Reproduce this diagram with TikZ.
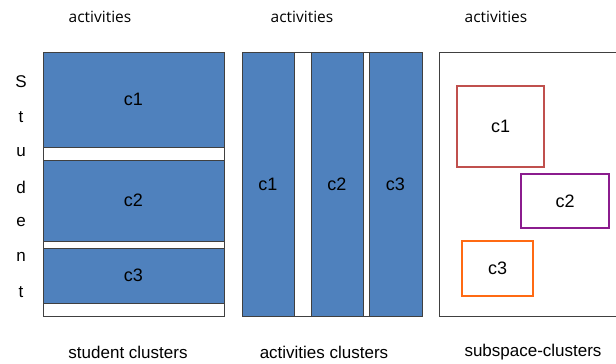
\documentclass[tikz,border=0pt]{standalone}
\usepackage{fontspec}
\setmainfont{Liberation Sans}
\newfontfamily\arialf{Liberation Sans}
\newfontfamily\segoef{Open Sans}
\definecolor{cblue}{HTML}{4F81BD}
\definecolor{cedge}{HTML}{404040}
\definecolor{cred}{HTML}{C0504D}
\definecolor{cpurple}{HTML}{8B1C8E}
\definecolor{corange}{HTML}{FF6A13}
\tikzset{
  panel/.style={draw=cedge, line width=0.9pt, fill=white, inner sep=0pt, anchor=north west},
  bluebox/.style={draw=cedge, line width=0.9pt, fill=cblue, inner sep=0pt, anchor=center, font=\arialf\fontsize{18}{20}\selectfont},
  subbox/.style={line width=2.4pt, fill=white, inner sep=0pt, font=\arialf\fontsize{18}{20}\selectfont},
  toplabel/.style={font=\segoef\fontsize{15.5}{18}\selectfont, inner sep=0pt},
  botlabel/.style={font=\arialf\fontsize{17}{20}\selectfont, inner sep=0pt},
  letter/.style={font=\arialf\fontsize{17}{20}\selectfont, inner sep=0pt}
}
\begin{document}
\begin{tikzpicture}[x=1pt,y=-1pt]
\useasboundingbox (0,0) rectangle (616,364);
% panel 1: student clusters
\node[panel, minimum width=181pt, minimum height=264pt] (p1) at (43,52) {};
\node[bluebox, minimum width=181pt, minimum height=95pt] (s1) at (133.5,99.5) {c1};
\node[bluebox, minimum width=181pt, minimum height=81pt] (s2) at (133.5,200.5) {c2};
\node[bluebox, minimum width=181pt, minimum height=55pt] (s3) at (133.5,275.5) {c3};
% panel 2: activities clusters
\node[panel, minimum width=180pt, minimum height=264pt] (p2) at (242,52) {};
\node[bluebox, minimum width=52pt, minimum height=264pt] (a1) at (268,184) {c1};
\node[bluebox, minimum width=52pt, minimum height=264pt] (a2) at (337,184) {c2};
\node[bluebox, minimum width=53pt, minimum height=264pt] (a3) at (395.5,184) {c3};
% panel 3: subspace clusters
\node[panel, minimum width=176.5pt, minimum height=264pt] (p3) at (439,52) {};
\node[subbox, draw=cred, minimum width=87pt, minimum height=81pt] (b1) at (500.5,126.5) {c1};
\node[subbox, draw=cpurple, minimum width=88pt, minimum height=54pt] (b2) at (565,201) {c2};
\node[subbox, draw=corange, minimum width=71pt, minimum height=55pt] (b3) at (497.5,268.5) {c3};
% top labels
\node[toplabel] (t1) at (100,17) {activities};
\node[toplabel] (t2) at (302,17) {activities};
\node[toplabel] (t3) at (496,17) {activities};
% bottom labels
\node[botlabel] (l1) at (128,352) {student clusters};
\node[botlabel] (l2) at (324,352) {activities clusters};
\node[botlabel] (l3) at (533,352) {subspace-clusters};
% vertical "Student"
\foreach \ch [count=\i] in {S,t,u,d,e,n,t}
  \node[letter] (st\i) at (21,{82+35*(\i-1)}) {\ch};
\end{tikzpicture}
\end{document}
